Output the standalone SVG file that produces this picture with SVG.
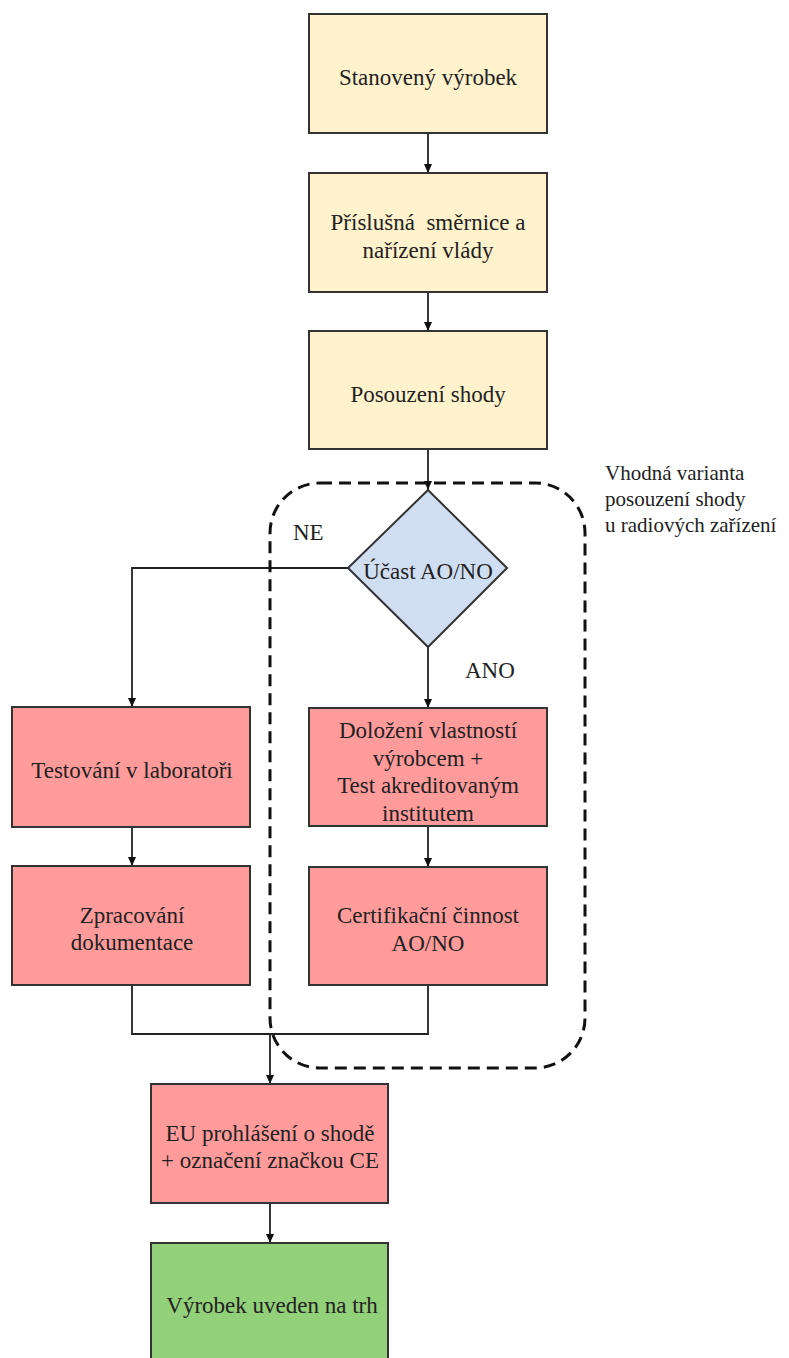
<svg xmlns="http://www.w3.org/2000/svg" width="789" height="1358" viewBox="0 0 789 1358">
<style>
  text { font-family: "Liberation Serif", "DejaVu Serif", serif; font-size: 23px; fill: #222; text-anchor: middle; }
  .lbl { text-anchor: start; }
  .side { text-anchor: start; font-size: 21px; }
  .box { stroke: #333; stroke-width: 2; }
  .yel { fill: #FFF2CC; }
  .red { fill: #FF9B9B; }
  .blue { fill: #D0DEF2; }
  .green { fill: #93D07A; }
  .con { fill: none; stroke: #222; stroke-width: 1.8; }
  .arr { marker-end: url(#ah); }
  .dash { fill: none; stroke: #111; stroke-width: 3; stroke-dasharray: 12 7; }
</style>
<defs>
  <marker id="ah" markerUnits="userSpaceOnUse" markerWidth="10" markerHeight="10" refX="9" refY="4" orient="auto">
    <path d="M0,0 L9,4 L0,8 z" fill="#111"/>
  </marker>
</defs>
<rect width="789" height="1358" fill="#fff"/>

<g id="connectors">
  <line class="con arr" x1="428" y1="133" x2="428" y2="173"/>
  <line class="con arr" x1="428" y1="292" x2="428" y2="331"/>
  <line class="con arr" x1="428" y1="449" x2="428" y2="490"/>
  <polyline class="con arr" points="348,568 132,568 132,707"/>
  <line class="con arr" x1="428" y1="647" x2="428" y2="708"/>
  <line class="con arr" x1="428" y1="826" x2="428" y2="867"/>
  <line class="con arr" x1="132" y1="827" x2="132" y2="866"/>
  <polyline class="con" points="132,985 132,1034 428,1034 428,985"/>
  <line class="con arr" x1="270" y1="1034" x2="270" y2="1084"/>
  <line class="con arr" x1="270" y1="1203" x2="270" y2="1243"/>
</g>

<g id="group-radio">
  <rect class="dash" x="270" y="483" width="315" height="585" rx="50" ry="50"/>
</g>

<g id="n-stanoveny">
  <rect class="box yel" x="309" y="14" width="238" height="119"/>
  <text x="428" y="85">Stanovený výrobek</text>
</g>
<g id="n-smernice">
  <rect class="box yel" x="309" y="173" width="238" height="119"/>
  <text x="428" y="230" xml:space="preserve">Příslušná  směrnice a</text>
  <text x="428" y="258">nařízení vlády</text>
</g>
<g id="n-posouzeni">
  <rect class="box yel" x="309" y="331" width="238" height="118"/>
  <text x="428" y="402">Posouzení shody</text>
</g>
<g id="n-ucast">
  <polygon class="box blue" points="428,490 507,568 428,647 348,568"/>
  <text x="428" y="579">Účast AO/NO</text>
</g>
<g id="n-dolozeni">
  <rect class="box red" x="309" y="708" width="238" height="118"/>
  <text x="428" y="738">Doložení vlastností</text>
  <text x="428" y="766">výrobcem +</text>
  <text x="428" y="793">Test akreditovaným</text>
  <text x="428" y="821">institutem</text>
</g>
<g id="n-certifikace">
  <rect class="box red" x="309" y="867" width="238" height="118"/>
  <text x="428" y="923">Certifikační činnost</text>
  <text x="428" y="951">AO/NO</text>
</g>
<g id="n-testovani">
  <rect class="box red" x="12" y="707" width="238" height="120"/>
  <text x="132" y="778">Testování v laboratoři</text>
</g>
<g id="n-zpracovani">
  <rect class="box red" x="12" y="866" width="238" height="119"/>
  <text x="132" y="923">Zpracování</text>
  <text x="132" y="950">dokumentace</text>
</g>
<g id="n-eu">
  <rect class="box red" x="151" y="1084" width="237" height="119"/>
  <text x="270" y="1141">EU prohlášení o shodě</text>
  <text x="270" y="1168">+ označení značkou CE</text>
</g>
<g id="n-trh">
  <rect class="box green" x="151" y="1243" width="237" height="130"/>
  <text x="272" y="1313">Výrobek uveden na trh</text>
</g>

<g id="labels">
  <text class="lbl" x="293" y="540">NE</text>
  <text class="lbl" x="465" y="678">ANO</text>
  <text class="side" x="605" y="480">Vhodná varianta</text>
  <text class="side" x="605" y="506">posouzení shody</text>
  <text class="side" x="605" y="532">u radiových zařízení</text>
</g>
</svg>
